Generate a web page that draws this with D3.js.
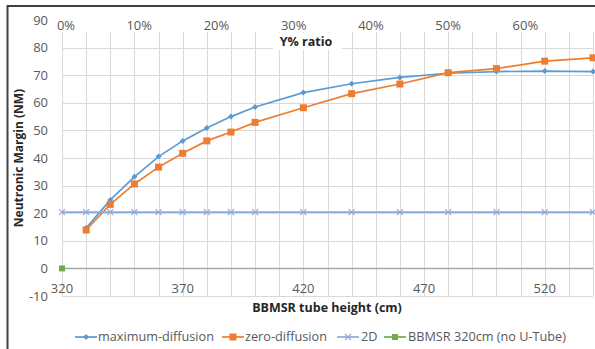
<!DOCTYPE html>
<html>
<head>
<meta charset="utf-8">
<script src="https://cdn.jsdelivr.net/npm/d3@7"></script>
<style>
  html, body { margin: 0; padding: 0; background: #fff; }
  svg { display: block; font-family: "Open Sans", "Liberation Sans", sans-serif; }
</style>
</head>
<body>
<svg id="chart" width="595" height="349"></svg>
<script>
(function() {

  // tube heights (cm) for the two diffusion runs
  const heights = [330, 340, 350, 360, 370, 380, 390, 400, 420, 440, 460, 480, 500, 520, 540];
  const maxDiffusion = [14.6, 24.8, 33.2, 40.5, 46.2, 50.9, 55.0, 58.5, 63.7, 66.9, 69.2, 70.7, 71.3, 71.5, 71.3];
  const zeroDiffusion = [13.9, 23.2, 30.6, 36.7, 41.7, 46.2, 49.4, 52.9, 58.2, 63.3, 66.8, 70.9, 72.4, 75.1, 76.3];

  const heights2D = [320, 330, 340, 350, 360, 370, 380, 390, 400, 420, 440, 460, 480, 500, 520, 540];
  const values2D = [20.4, 20.4, 20.4, 20.4, 20.4, 20.4, 20.4, 20.4, 20.4, 20.4, 20.4, 20.4, 20.4, 20.4, 20.4, 20.4];

  const bbmsrHeights = [320];
  const bbmsrValues = [0];

  const xTicks = [320, 370, 420, 470, 520];
  const yTicks = [-10, 0, 10, 20, 30, 40, 50, 60, 70, 80, 90];
  const ratioTicks = [0, 0.1, 0.2, 0.3, 0.4, 0.5, 0.6];

  const svg = d3.select('#chart');

  const left = 62, right = 593, top = 20, bottom = 296;
  const x = d3.scaleLinear().domain([320, 540]).range([left, right]);
  const xRatio = d3.scaleLinear().domain([0, 220 / 320]).range([left, right]);
  const y = d3.scaleLinear().domain([-10, 90]).range([bottom, top]);

  const gridColor = '#d9d9d9';
  const labelColor = '#595959';

  // frame of the chart area (only left and top edges are in view)
  svg.append('line').attr('x1', 7.5).attr('x2', 7.5).attr('y1', 5).attr('y2', 349)
    .attr('stroke', '#404040').attr('stroke-width', 2);
  svg.append('line').attr('x1', 7).attr('x2', 595).attr('y1', 6).attr('y2', 6)
    .attr('stroke', '#404040').attr('stroke-width', 2);

  // gridlines
  const grid = svg.append('g');
  grid.selectAll('.vgrid').data(d3.range(320, 541, 10)).enter().append('line')
    .attr('x1', d => Math.round(x(d)) + 0.5).attr('x2', d => Math.round(x(d)) + 0.5)
    .attr('y1', 32).attr('y2', bottom)
    .attr('stroke', gridColor).attr('stroke-width', 1);
  grid.selectAll('.hgrid').data(yTicks.filter(d => d < 90)).enter().append('line')
    .attr('x1', left).attr('x2', right)
    .attr('y1', d => Math.round(y(d)) + 0.5).attr('y2', d => Math.round(y(d)) + 0.5)
    .attr('stroke', gridColor).attr('stroke-width', 1);

  // horizontal axis line at zero
  svg.append('line').attr('x1', left).attr('x2', right)
    .attr('y1', y(0)).attr('y2', y(0))
    .attr('stroke', '#a6a6a6').attr('stroke-width', 1.5);

  // y axis labels
  svg.append('g').selectAll('text').data(yTicks).enter().append('text')
    .attr('x', 48).attr('y', d => y(d)).attr('dy', '0.35em')
    .attr('text-anchor', 'end').attr('font-size', 13).attr('fill', labelColor)
    .text(d => d);

  // x axis labels (next to the zero line)
  svg.append('g').selectAll('text').data(xTicks).enter().append('text')
    .attr('x', d => x(d)).attr('y', 288).attr('dy', '0.35em')
    .attr('text-anchor', 'middle').attr('font-size', 13).attr('fill', labelColor)
    .text(d => d);

  // secondary (top) axis labels
  svg.append('g').selectAll('text').data(ratioTicks).enter().append('text')
    .attr('x', d => xRatio(d) + (d === 0 ? 4 : 0)).attr('y', 25).attr('dy', '0.35em')
    .attr('text-anchor', 'middle').attr('font-size', 13).attr('fill', labelColor)
    .text(d => d3.format('.0%')(d));

  // secondary axis title with white backing
  svg.append('rect').attr('x', 273).attr('y', 33).attr('width', 69).attr('height', 17).attr('fill', '#fff');
  svg.append('text').attr('x', 306).attr('y', 42).attr('dy', '0.35em')
    .attr('text-anchor', 'middle').attr('font-size', 12.5).attr('font-weight', 'bold').attr('fill', '#262626')
    .text('Y% ratio');

  // axis titles
  svg.append('text').attr('x', 327).attr('y', 308).attr('dy', '0.35em')
    .attr('text-anchor', 'middle').attr('font-size', 12.5).attr('font-weight', 'bold').attr('fill', '#262626')
    .text('BBMSR tube height (cm)');
  svg.append('text').attr('transform', 'translate(19,158) rotate(-90)').attr('dy', '0.35em')
    .attr('text-anchor', 'middle').attr('font-size', 12).attr('font-weight', 'bold').attr('fill', '#262626')
    .text('Neutronic Margin (NM)');

  const line = d3.line().x(d => x(d[0])).y(d => y(d[1]));

  const series = [
    { name: 'maximum-diffusion', xs: heights, ys: maxDiffusion, color: '#5b9bd5', marker: 'diamond' },
    { name: 'zero-diffusion', xs: heights, ys: zeroDiffusion, color: '#ed7d31', marker: 'square' },
    { name: '2D', xs: heights2D, ys: values2D, color: '#8eaadb', marker: 'cross' },
    { name: 'BBMSR 320cm (no U-Tube)', xs: bbmsrHeights, ys: bbmsrValues, color: '#70ad47', marker: 'smallsquare' }
  ];

  function drawMarker(g, type, cx, cy, color) {
    if (type === 'diamond') {
      g.append('path').attr('d', `M${cx},${cy - 3}L${cx + 3},${cy}L${cx},${cy + 3}L${cx - 3},${cy}Z`)
        .attr('fill', color);
    } else if (type === 'square') {
      g.append('rect').attr('x', cx - 3.5).attr('y', cy - 3.5).attr('width', 7).attr('height', 7)
        .attr('fill', color);
    } else if (type === 'smallsquare') {
      g.append('rect').attr('x', cx - 3).attr('y', cy - 3).attr('width', 6).attr('height', 6)
        .attr('fill', color);
    } else if (type === 'cross') {
      g.append('path').attr('d', `M${cx - 3},${cy - 3}L${cx + 3},${cy + 3}M${cx - 3},${cy + 3}L${cx + 3},${cy - 3}`)
        .attr('stroke', color).attr('stroke-width', 1.2).attr('fill', 'none');
    }
  }

  // series in plotting order, later ones on top
  series.forEach(s => {
    const pts = s.xs.map((h, i) => [h, s.ys[i]]);
    const g = svg.append('g');
    if (pts.length > 1) {
      g.append('path').datum(pts).attr('d', line)
        .attr('fill', 'none').attr('stroke', s.color).attr('stroke-width', 1.7);
    }
    pts.forEach(p => drawMarker(g, s.marker, x(p[0]), y(p[1]), s.color));
  });

  // legend
  const legendY = 337;
  const legendItems = [
    { s: series[0], x0: 75, tx: 98 },
    { s: series[1], x0: 222, tx: 245 },
    { s: series[2], x0: 337, tx: 361 },
    { s: series[3], x0: 384, tx: 408 }
  ];
  legendItems.forEach(it => {
    const g = svg.append('g');
    g.append('line').attr('x1', it.x0).attr('x2', it.x0 + 22).attr('y1', legendY).attr('y2', legendY)
      .attr('stroke', it.s.color).attr('stroke-width', 1.7);
    drawMarker(g, it.s.marker, it.x0 + 11, legendY, it.s.color);
    g.append('text').attr('x', it.tx).attr('y', legendY).attr('dy', '0.35em')
      .attr('font-size', 12.7).attr('fill', labelColor).text(it.s.name);
  });

})();
</script>
</body>
</html>
